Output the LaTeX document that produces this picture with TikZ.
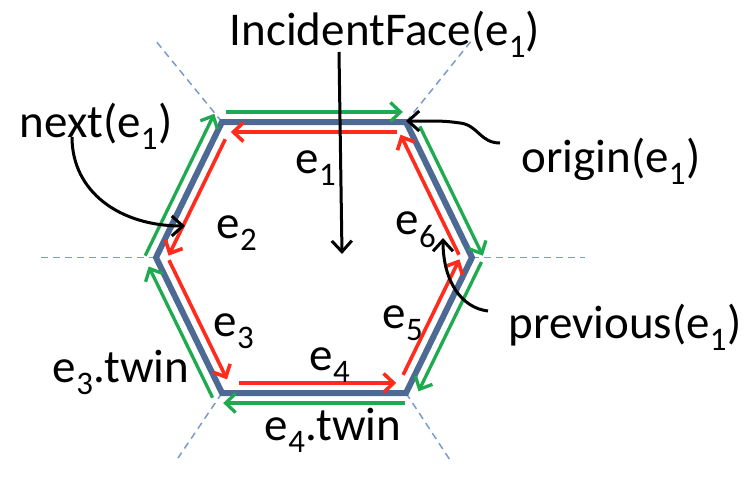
\documentclass[tikz,border=0pt]{standalone}
\usepackage{fontspec}
\setmainfont{Carlito}
\usetikzlibrary{arrows.meta,calc}
\definecolor{hexblue}{HTML}{4C6A93}
\definecolor{dashblue}{HTML}{7A9CCB}
\definecolor{redc}{HTML}{FF2B1C}
\definecolor{greenc}{HTML}{1EAA4E}
\newcommand\ix[1]{\textsubscript{#1}}
\tikzset{
  hexedge/.style={draw=hexblue,line width=6pt,line join=miter},
  ray/.style={draw=dashblue,line width=1.5pt,dash pattern=on 7pt off 5pt},
  redarr/.style={draw=redc,line width=3.6pt,-{Straight Barb[length=10pt,width=19pt]}},
  greenarr/.style={draw=greenc,line width=3.3pt,-{Straight Barb[length=10pt,width=19pt]}},
  blackarr/.style={draw=black,line width=3pt,-{Straight Barb[length=11pt,width=20pt]}},
  lbl/.style={font=\fontsize{47}{50}\selectfont,inner sep=0pt,anchor=base},
}
\begin{document}
\begin{tikzpicture}[x=1pt,y=-1pt]
\useasboundingbox (0,0) rectangle (755,480);
% hexagon vertices
\coordinate (C) at (314,257.5);
\coordinate (TL) at (222,122);
\coordinate (TR) at (406,122);
\coordinate (R) at (472,257.5);
\coordinate (BR) at (406,393);
\coordinate (BL) at (222,393);
\coordinate (L) at (156,257.5);
% dashed rays
\coordinate (dTL) at (155,40);
\coordinate (dTR) at (472,40);
\coordinate (dL) at (40,257.5);
\coordinate (dR) at (585,257.5);
\coordinate (dBL) at (178,458);
\coordinate (dBR) at (450,460);
\draw[ray] (TL) -- (dTL);
\draw[ray] (TR) -- (dTR);
\draw[ray] (L) -- (dL);
\draw[ray] (R) -- (dR);
\draw[ray] (BL) -- (dBL);
\draw[ray] (BR) -- (dBR);
% blue hexagon
\draw[hexedge] (TL) -- (TR) -- (R) -- (BR) -- (BL) -- (L) -- cycle;
% inner (red) and outer (green) copies
\foreach \v in {TL,TR,R,BR,BL,L}{
  \coordinate (r\v) at ($(C)!0.926!(\v)$);
  \coordinate (g\v) at ($(C)!1.074!(\v)$);
}
% red half-edges
\draw[redarr,shorten <=2pt,shorten >=2pt] (rTR) -- (rTL);
\draw[redarr,shorten <=8pt,shorten >=2pt] (rTL) -- (rL);
\draw[redarr,shorten <=3pt,shorten >=4pt] (rL) -- (rBL);
\draw[redarr,shorten <=10pt,shorten >=3pt] (rBL) -- (rBR);
\draw[redarr,shorten <=9pt,shorten >=2pt] (rBR) -- (rR);
\draw[redarr,shorten <=3pt,shorten >=3pt] (rR) -- (rTR);
% green twins
\draw[greenarr,shorten <=11pt,shorten >=10pt] (gTL) -- (gTR);
\draw[greenarr,shorten <=16pt,shorten >=2pt] (gTR) -- (gR);
\draw[greenarr,shorten <=5pt,shorten >=13pt] (gR) -- (gBR);
\draw[greenarr,shorten <=8pt,shorten >=8pt] (gBR) -- (gBL);
\draw[greenarr,shorten <=6pt,shorten >=10pt] (gBL) -- (gL);
\draw[greenarr,shorten <=2pt,shorten >=2pt] (gL) -- (gTL);
% labels
\node[lbl] (inc) at (385,45) {IncidentFace(e\ix{1})};
\node[lbl] (nxt) at (96,137) {next(e\ix{1})};
\node[lbl] (org) at (611,172) {origin(e\ix{1})};
\node[lbl] (prv) at (625,338) {previous(e\ix{1})};
\node[lbl] (t3) at (121,382) {e\ix{3}.twin};
\node[lbl] (t4) at (333,440) {e\ix{4}.twin};
\node[lbl] (e1) at (316,173) {e\ix{1}};
\node[lbl] (e2) at (237,238) {e\ix{2}};
\node[lbl] (e3) at (234,336) {e\ix{3}};
\node[lbl] (e4) at (330,370) {e\ix{4}};
\node[lbl] (e5) at (403,328) {e\ix{5}};
\node[lbl] (e6) at (416,234) {e\ix{6}};
% pointers
\coordinate (faceIn) at (342,254);
\coordinate (nextTip) at (185,226);
\coordinate (nextStart) at (72,137);
\coordinate (origTip) at (406,121);
\coordinate (origBend) at (460,123);
\coordinate (origStart) at (500,143);
\coordinate (prevTip) at (443,238);
\coordinate (prevStart) at (488,311);
\coordinate (incStart) at (339,52);
\draw[blackarr] (incStart) -- (faceIn);
\draw[blackarr] (nextStart) .. controls (72,192) and (120,226) .. (nextTip);
\draw[blackarr] (origStart) .. controls (480,143) and (478,125) .. (origBend) .. controls (445,121) .. (origTip);
\draw[blackarr] (prevStart) .. controls (462,308) and (443,282) .. (prevTip);
\end{tikzpicture}
\end{document}
